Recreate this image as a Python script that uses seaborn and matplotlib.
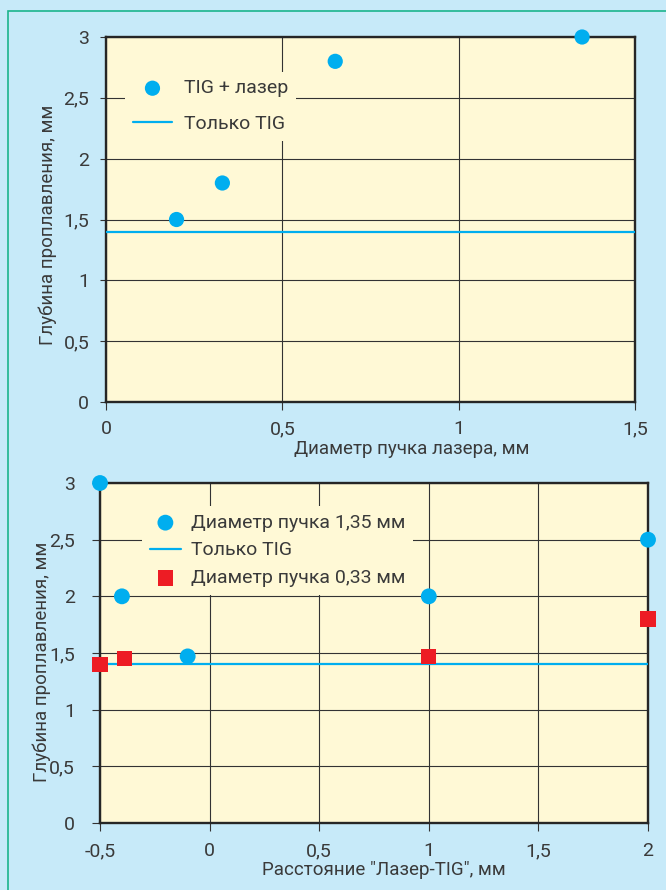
import numpy as np
import pandas as pd
import seaborn as sns
import matplotlib.pyplot as plt
from matplotlib.patches import Rectangle

# данные верхнего графика: глубина проплавления от диаметра пучка
diam_top = [0.2, 0.33, 0.65, 1.35]
depth_top = [1.5, 1.8, 2.8, 3.0]
tig_only = 1.4

# данные нижнего графика: расстояние лазер-TIG
dist_135 = [-0.5, -0.4, -0.1, 1.0, 2.0]
depth_135 = [3.0, 2.0, 1.47, 2.0, 2.5]
dist_033 = [-0.5, -0.39, 1.0, 2.0]
depth_033 = [1.4, 1.45, 1.47, 1.8]

yticks = [0, 0.5, 1, 1.5, 2, 2.5, 3]
ytick_labels = ['0', '0,5', '1', '1,5', '2', '2,5', '3']
xticks_top = [0, 0.5, 1, 1.5]
xtick_labels_top = ['0', '0,5', '1', '1,5']
xticks_bot = [-0.5, 0, 0.5, 1, 1.5, 2]
xtick_labels_bot = ['-0,5', '0', '0,5', '1', '1,5', '2']

blue = '#00aeef'
red = '#ed1c24'
txt = '#3a3a3a'
face = '#fff9d6'

sns.set_style('white')
plt.rcParams['font.family'] = ['Roboto', 'DejaVu Sans']
plt.rcParams['text.color'] = txt

fig = plt.figure(figsize=(6.66, 8.9), dpi=100, facecolor='#c7eaf9')
fig.patches.append(Rectangle((8 / 666, -0.1), 1.2, 1.1 - 11.5 / 890, transform=fig.transFigure,
                             facecolor='none', edgecolor='#1cb58c', lw=1.2))

ax1 = fig.add_axes([106 / 666, 1 - 402 / 890, 529 / 666, 365 / 890])
ax2 = fig.add_axes([100 / 666, 1 - 823 / 890, 548 / 666, 340 / 890])


def style_axes(ax, xticks, xlabels, xpad, ypad, ylen):
    ax.set_facecolor(face)
    ax.set_axisbelow(True)
    ax.set_ylim(0, 3)
    ax.set_yticks(yticks)
    ax.set_yticklabels(ytick_labels)
    ax.set_xticks(xticks)
    ax.set_xticklabels(xlabels)
    ax.grid(True, color='#333333', lw=0.8)
    for s in ax.spines.values():
        s.set_color('#262626')
        s.set_linewidth(1.7)
        s.set_visible(True)
    ax.tick_params(axis='x', direction='out', length=6, width=0.8, color='#333333',
                   pad=xpad, labelsize=14, labelcolor=txt, bottom=True)
    ax.tick_params(axis='y', direction='out', length=ylen, width=0.8, color='#333333',
                   pad=ypad, labelsize=14, labelcolor=txt, left=True)


# верхний график
sns.scatterplot(x=diam_top, y=depth_top, ax=ax1, color=blue, s=120, edgecolor='none',
                clip_on=False, zorder=4, label='TIG + лазер')
ax1.axhline(tig_only, color=blue, lw=1.6, label='Только TIG', zorder=3)
ax1.set_xlim(0, 1.5)
style_axes(ax1, xticks_top, xtick_labels_top, 7, 8, 4)
ax1.set_xlabel('Диаметр пучка лазера, мм', fontsize=13.5, color=txt)
ax1.set_ylabel('Глубина проплавления, мм', fontsize=13.5, color=txt)
ax1.xaxis.set_label_coords((412 - 106) / 529, -0.13)
ax1.xaxis.label.set_va('center')
ax1.yaxis.set_label_coords(-0.11, 0.485)
ax1.yaxis.label.set_va('center')
leg1 = ax1.legend(loc='upper left', bbox_to_anchor=(0.018, 0.932), fontsize=14, frameon=True,
                  facecolor=face, edgecolor='none', framealpha=1, fancybox=False,
                  handlelength=2.0, handletextpad=0.6, labelspacing=0.9, borderpad=0.4)

# нижний график
sns.scatterplot(x=dist_135, y=depth_135, ax=ax2, color=blue, s=130, edgecolor='none',
                clip_on=False, zorder=4, label='Диаметр пучка 1,35 мм')
ax2.axhline(tig_only, color=blue, lw=1.6, label='Только TIG', zorder=3)
sns.scatterplot(x=dist_033, y=depth_033, ax=ax2, color=red, s=120, marker='s', edgecolor='none',
                clip_on=False, zorder=5, label='Диаметр пучка 0,33 мм')
ax2.set_xlim(-0.5, 2)
style_axes(ax2, xticks_bot, xtick_labels_bot, 8, 12, 6)
ax2.set_xlabel('Расстояние "Лазер-TIG", мм', fontsize=13.5, color=txt)
ax2.set_ylabel('Глубина проплавления, мм', fontsize=13.5, color=txt)
ax2.xaxis.set_label_coords((384 - 100) / 548, -0.139)
ax2.xaxis.label.set_va('center')
ax2.yaxis.set_label_coords(-0.107, 0.474)
ax2.yaxis.label.set_va('center')
h, l = ax2.get_legend_handles_labels()
order = [l.index('Диаметр пучка 1,35 мм'), l.index('Только TIG'), l.index('Диаметр пучка 0,33 мм')]
leg2 = ax2.legend([h[i] for i in order], [l[i] for i in order], loc='upper left',
                  bbox_to_anchor=(0.059, 0.961), fontsize=14, frameon=True,
                  facecolor=face, edgecolor='none', framealpha=1, fancybox=False,
                  handlelength=1.6, handletextpad=0.5, labelspacing=0.5, borderpad=0.4)

fig.savefig('out.png', dpi=100, facecolor=fig.get_facecolor())
